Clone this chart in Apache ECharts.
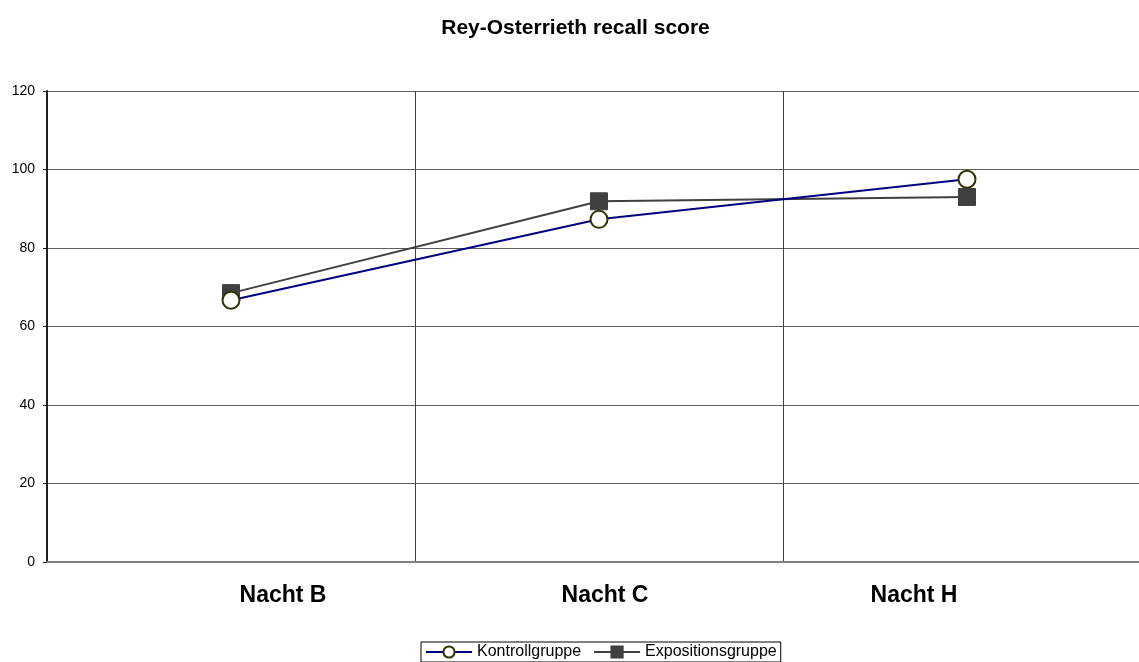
<!DOCTYPE html>
<html>
<head>
<meta charset="utf-8">
<script src="https://cdn.jsdelivr.net/npm/echarts@6/dist/echarts.min.js"></script>
<style>
  html, body { margin: 0; padding: 0; background: #fff; overflow: hidden; }
  #chart { width: 1151px; height: 662px; }
</style>
</head>
<body>
<div id="chart"></div>
<script>
var categories = ['Nacht B', 'Nacht C', 'Nacht H'];
var kontroll = [66.7, 87.3, 97.5];
var exposition = [68.5, 91.9, 93.0];
var yTicks = [0, 20, 40, 60, 80, 100, 120];

// the category labels in the original are not centred under their points
var labelStyles = ['b', 'c', 'h'];

var labelFont = { fontSize: 23, fontWeight: 'bold', color: '#000' };

var myChart = echarts.init(document.getElementById('chart'));
myChart.setOption({
  animation: false,
  textStyle: { fontFamily: 'Liberation Sans, Arial, sans-serif' },
  title: {
    text: 'Rey-Osterrieth recall score',
    left: 'center',
    top: 13,
    textStyle: { fontSize: 21, fontWeight: 'bold', color: '#000' }
  },
  legend: {
    bottom: 0,
    left: 421,
    data: ['Kontrollgruppe', 'Expositionsgruppe'],
    borderColor: '#000',
    borderWidth: 1,
    padding: [2, 4, 2, 4],
    itemWidth: 46,
    itemHeight: 14,
    itemGap: 12,
    textStyle: { fontSize: 16, color: '#000' }
  },
  grid: { left: 47, right: 0, top: 91, bottom: 100, containLabel: false },
  xAxis: {
    type: 'category',
    data: categories,
    boundaryGap: true,
    axisLine: { show: true, lineStyle: { color: '#808080', width: 2 } },
    axisTick: { show: false },
    splitLine: { show: true, lineStyle: { color: '#404040', width: 1 } },
    axisLabel: {
      margin: 22,
      formatter: function (v, i) { return '{' + labelStyles[i] + '|' + v + '}'; },
      rich: {
        b: Object.assign({ padding: [0, 0, 0, 104] }, labelFont),
        c: Object.assign({ padding: [0, 0, 0, 12] }, labelFont),
        h: Object.assign({ padding: [0, 106, 0, 0] }, labelFont)
      }
    }
  },
  yAxis: {
    type: 'value',
    min: yTicks[0],
    max: yTicks[yTicks.length - 1],
    interval: 20,
    axisLine: { show: true, lineStyle: { color: '#202020', width: 2 } },
    axisTick: { show: true, length: 4, lineStyle: { color: '#202020' } },
    splitLine: { show: true, lineStyle: { color: '#606060', width: 1 } },
    axisLabel: { fontSize: 14, color: '#000', margin: 12 }
  },
  series: [
    {
      name: 'Kontrollgruppe',
      type: 'line',
      data: kontroll,
      symbol: 'circle',
      symbolSize: 17,
      z: 3,
      lineStyle: { color: '#000080', width: 2 },
      itemStyle: { color: '#ffffff', borderColor: '#333300', borderWidth: 2 }
    },
    {
      name: 'Expositionsgruppe',
      type: 'line',
      data: exposition,
      symbol: 'rect',
      symbolSize: 17,
      z: 2,
      lineStyle: { color: '#404040', width: 2 },
      itemStyle: { color: '#404040', borderColor: '#404040', borderWidth: 1 }
    }
  ]
});
</script>
</body>
</html>
